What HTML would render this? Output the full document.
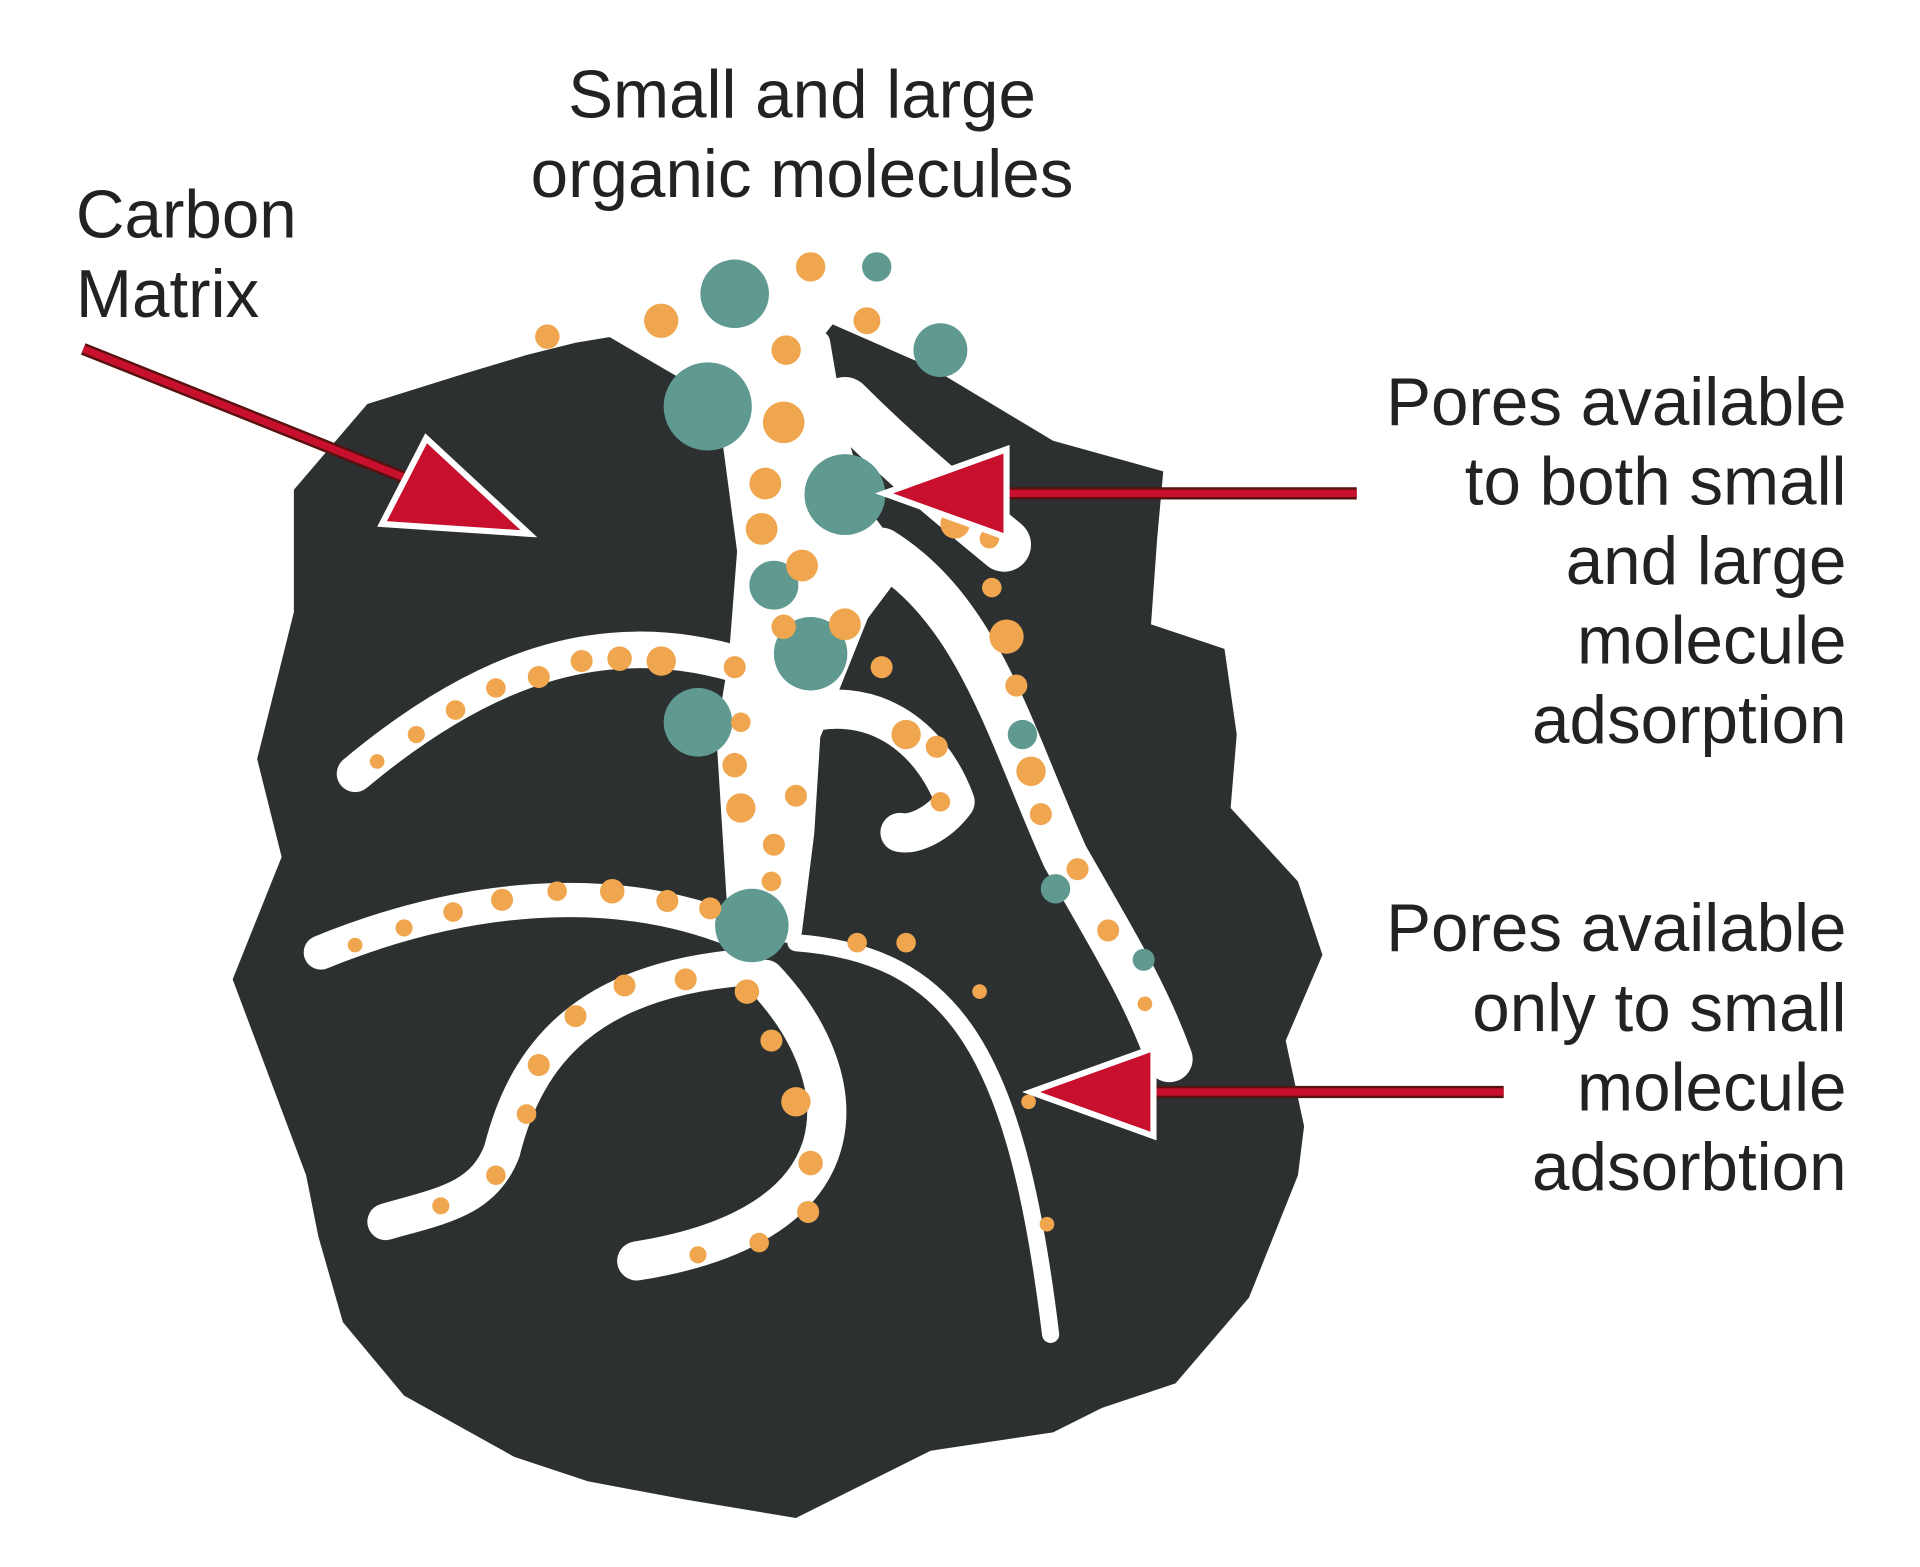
<!DOCTYPE html>
<html><head><meta charset="utf-8"><style>
html,body{margin:0;padding:0;background:#fff;}
svg{display:block;}
text{font-family:"Liberation Sans",sans-serif;font-size:55px;fill:#222;}
</style></head><body>
<svg width="1920" height="1567" viewBox="0 0 1568 1280" preserveAspectRatio="none" xmlns="http://www.w3.org/2000/svg">
<rect width="1568" height="1280" fill="#fff"/>
<path fill="#2c3031" d="M 240 400 L 300 330 L 380 305 L 430 290 L 470 280 L 500 275 L 560 300 L 600 340 L 660 290 L 680 265 L 760 300 L 860 360 L 950 385 L 945 440 L 940 510 L 1000 530 L 1010 600 L 1005 660 L 1060 720 L 1080 780 L 1050 850 L 1065 920 L 1060 960 L 1020 1060 L 960 1130 L 900 1150 L 860 1170 L 760 1185 L 700 1215 L 650 1240 L 560 1225 L 480 1210 L 420 1190 L 330 1140 L 280 1080 L 260 1010 L 250 960 L 220 880 L 190 800 L 230 700 L 210 620 L 230 540 L 240 500 Z"/>
<g fill="none" stroke="#fff" stroke-linecap="round" stroke-linejoin="round">
<path d="M 500 265 L 560 300 L 600 360 L 612 450 L 605 540 L 595 600 L 600 680 L 605 760 L 645 760 L 655 680 L 660 600 L 700 500 L 730 460 L 700 420 L 680 350 L 668 280 L 620 250 Z" fill="#fff" stroke-width="20"/>
<path d="M 690 330 C 740 380 790 420 820 445" stroke-width="44"/>
<path d="M 610 545 C 500 510 400 540 290 632" stroke-width="30"/>
<path d="M 600 760 C 500 720 380 730 262 778" stroke-width="28"/>
<path d="M 610 790 C 480 800 430 860 410 940 C 395 980 360 985 315 998" stroke-width="30"/>
<path d="M 625 800 C 700 880 710 1000 520 1030" stroke-width="32"/>
<path d="M 650 770 C 780 780 830 860 858 1090" stroke-width="14"/>
<path d="M 720 450 C 800 500 825 600 870 700 C 910 770 935 810 955 865" stroke-width="38"/>
<path d="M 650 585 C 710 565 760 600 780 655 C 765 675 745 682 735 680" stroke-width="32"/>
</g>
<g fill="#5f9990">
<circle cx="600" cy="240" r="28"/><circle cx="716" cy="218" r="12"/><circle cx="768" cy="286" r="22"/>
<circle cx="578" cy="332" r="36"/><circle cx="690" cy="404" r="33"/><circle cx="632" cy="478" r="20"/>
<circle cx="662" cy="534" r="30"/><circle cx="570" cy="590" r="28"/><circle cx="614" cy="756" r="30"/>
<circle cx="862" cy="726" r="12"/><circle cx="934" cy="784" r="9"/><circle cx="835" cy="600" r="12"/>
</g>
<g fill="#f0a64e">
<circle cx="447" cy="275" r="10"/><circle cx="540" cy="262" r="14"/><circle cx="662" cy="218" r="12"/><circle cx="708" cy="262" r="11"/>
<circle cx="642" cy="286" r="12"/><circle cx="640" cy="345" r="17"/><circle cx="625" cy="395" r="13"/><circle cx="622" cy="432" r="13"/>
<circle cx="655" cy="462" r="13"/><circle cx="640" cy="512" r="10"/><circle cx="690" cy="510" r="13"/>
<circle cx="780" cy="428" r="12"/><circle cx="808" cy="440" r="8"/><circle cx="810" cy="480" r="8"/><circle cx="822" cy="520" r="14"/>
<circle cx="830" cy="560" r="9"/><circle cx="842" cy="630" r="12"/><circle cx="850" cy="665" r="9"/><circle cx="880" cy="710" r="9"/><circle cx="905" cy="760" r="9"/><circle cx="935" cy="820" r="6"/>
<circle cx="540" cy="540" r="12"/><circle cx="506" cy="538" r="10"/><circle cx="475" cy="540" r="9"/><circle cx="440" cy="553" r="9"/><circle cx="405" cy="562" r="8"/><circle cx="372" cy="580" r="8"/><circle cx="340" cy="600" r="7"/><circle cx="308" cy="622" r="6"/>
<circle cx="600" cy="545" r="9"/><circle cx="605" cy="590" r="8"/><circle cx="600" cy="625" r="10"/><circle cx="605" cy="660" r="12"/><circle cx="632" cy="690" r="9"/><circle cx="630" cy="720" r="8"/><circle cx="650" cy="650" r="9"/>
<circle cx="720" cy="545" r="9"/><circle cx="740" cy="600" r="12"/><circle cx="765" cy="610" r="9"/><circle cx="768" cy="655" r="8"/>
<circle cx="580" cy="742" r="9"/><circle cx="545" cy="736" r="9"/><circle cx="500" cy="728" r="10"/><circle cx="455" cy="728" r="8"/><circle cx="410" cy="735" r="9"/><circle cx="370" cy="745" r="8"/><circle cx="330" cy="758" r="7"/><circle cx="290" cy="772" r="6"/>
<circle cx="560" cy="800" r="9"/><circle cx="510" cy="805" r="9"/><circle cx="470" cy="830" r="9"/><circle cx="440" cy="870" r="9"/><circle cx="430" cy="910" r="8"/><circle cx="405" cy="960" r="8"/><circle cx="360" cy="985" r="7"/>
<circle cx="610" cy="810" r="10"/><circle cx="630" cy="850" r="9"/><circle cx="650" cy="900" r="12"/><circle cx="662" cy="950" r="10"/><circle cx="660" cy="990" r="9"/><circle cx="620" cy="1015" r="8"/><circle cx="570" cy="1025" r="7"/>
<circle cx="700" cy="770" r="8"/><circle cx="740" cy="770" r="8"/><circle cx="800" cy="810" r="6"/><circle cx="840" cy="900" r="6"/><circle cx="855" cy="1000" r="6"/>
</g>
<g stroke="#fff" stroke-width="5" fill="#c8102e" stroke-linejoin="miter">
<path d="M 68 285 L 330 390" stroke="#5a1010" stroke-width="10" fill="none"/>
<path d="M 68 285 L 330 390" stroke="#c8102e" stroke-width="6" fill="none"/>
<path d="M 432 436 L 312 428 L 348 358 Z"/>
<path d="M 1108 403 L 820 403" stroke="#5a1010" stroke-width="10" fill="none"/>
<path d="M 1108 403 L 820 403" stroke="#c8102e" stroke-width="6" fill="none"/>
<path d="M 722 403 L 822 367 L 822 439 Z"/>
<path d="M 1228 892 L 940 892" stroke="#5a1010" stroke-width="10" fill="none"/>
<path d="M 1228 892 L 940 892" stroke="#c8102e" stroke-width="6" fill="none"/>
<path d="M 842 892 L 942 856 L 942 928 Z"/>
</g>
<text x="655" y="96" text-anchor="middle">Small and large</text>
<text x="655" y="161" text-anchor="middle">organic molecules</text>
<text x="62" y="194">Carbon</text>
<text x="62" y="259">Matrix</text>
<g text-anchor="end">
<text x="1508" y="347">Pores available</text>
<text x="1508" y="412">to both small</text>
<text x="1508" y="477">and large</text>
<text x="1508" y="542">molecule</text>
<text x="1508" y="607">adsorption</text>
<text x="1508" y="777">Pores available</text>
<text x="1508" y="842">only to small</text>
<text x="1508" y="907">molecule</text>
<text x="1508" y="972">adsorbtion</text>
</g>
</svg>
</body></html>
